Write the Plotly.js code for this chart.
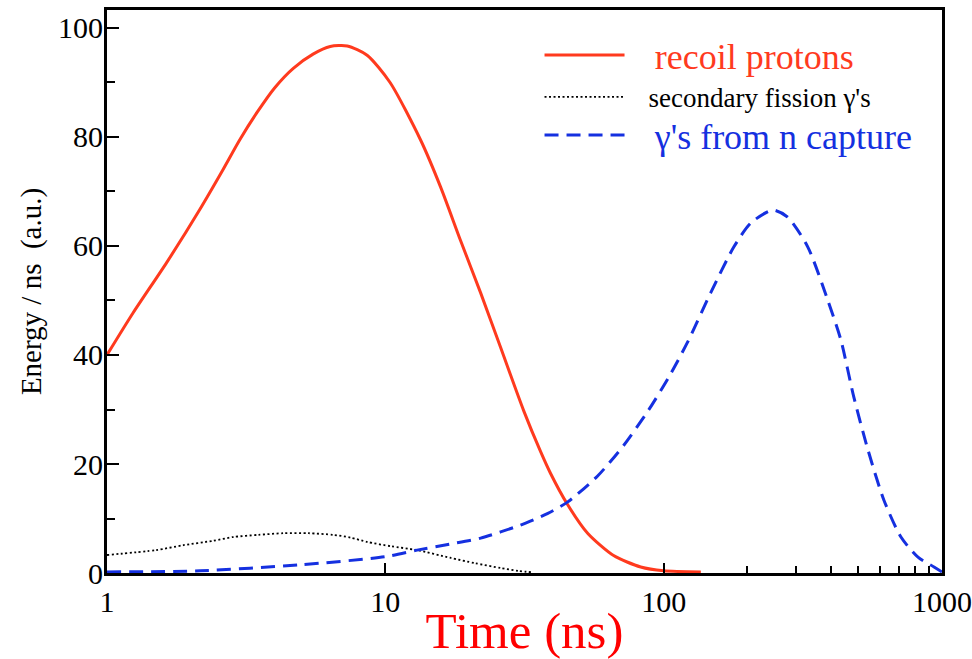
<!DOCTYPE html>
<html>
<head>
<meta charset="utf-8">
<script src="https://cdn.plot.ly/plotly-3.0.1.min.js"></script>
<style>html,body{margin:0;padding:0;background:#fff;}#chart{width:972px;height:659px;}</style>
</head>
<body>
<div id="chart"></div>
<script>
// Recoil protons (solid red)
const timeRecoil = [1, 1.24, 1.64, 2.16, 2.61, 3.0, 3.46, 4.0, 4.67, 5.5, 6.34, 7.3, 8.6, 10.4, 13.4, 15.8, 18.6, 22, 25.9, 31.4, 36.1, 39.2, 45.1, 53.3, 66.1, 82.7, 100, 136];
const recoil     = [40, 47.7, 57, 66.8, 74, 79.5, 84.5, 89, 92.6, 95.2, 96.6, 96.7, 95, 90, 79.4, 70.8, 61.1, 51.4, 41.5, 29.8, 22.3, 18.3, 12.6, 7.3, 3.2, 1.1, 0.4, 0.2];

// Secondary fission gammas (dotted black)
const timeFission = [1, 1.5, 1.88, 2.4, 2.84, 3.5, 4.3, 5.3, 6.5, 7.5, 8.6, 10.5, 13, 17.1, 21, 26, 30, 34];
const fission     = [3.3, 4.2, 5.1, 5.9, 6.6, 7.0, 7.3, 7.3, 7.0, 6.5, 5.7, 4.9, 4.2, 2.8, 1.8, 0.9, 0.4, 0.1];

// Gammas from n capture (dashed blue)
const timeCapture = [1, 2.16, 4.95, 10, 13, 17, 22, 30.6, 38.2, 45.1, 57.9, 71.8, 87.5, 104, 122, 147.5, 178.6, 205.5, 246.6, 279, 329.6, 389, 433, 482, 542, 618, 712, 820, 936, 1000];
const capture     = [0.2, 0.4, 1.5, 3, 4.2, 5.3, 6.4, 8.8, 10.9, 13.0, 17.8, 23.4, 29.6, 35.8, 42.4, 51.4, 59.8, 64.2, 66.6, 65.3, 59.8, 50, 42.8, 32.3, 22.6, 13.4, 6.6, 2.9, 1.1, 0.2];

const seriesNames = ["recoil protons", "secondary fission \u03b3's", "\u03b3's from n capture"];

const xTickVals = [1, 10, 100, 1000];
const xMinorVals = [200, 300, 400, 500, 600, 700, 800, 900];
const yTickVals = [0, 20, 40, 60, 80, 100];
const yMinorVals = [10, 30, 50, 70, 90];

const RED = '#ff3a1e';
const BLUE = '#1530e0';
const FONT = 'Liberation Serif';

const pad = '\u00A0\u00A0\u2009';

const traces = [
  {x: timeRecoil, y: recoil, name: pad + seriesNames[0], mode: 'lines', legend: 'legend',
   line: {color: RED, width: 3, shape: 'spline', smoothing: 0.7}},
  {x: timeFission, y: fission, name: pad + seriesNames[1], mode: 'lines', legend: 'legend2',
   line: {color: '#000', width: 1.8, dash: '2px,2.5px', shape: 'spline', smoothing: 0.7}},
  {x: timeCapture, y: capture, name: pad + seriesNames[2], mode: 'lines', legend: 'legend3',
   line: {color: BLUE, width: 3, dash: '14px,8px', shape: 'spline', smoothing: 0.7}}
];

const legendBase = {xref: 'paper', yref: 'paper', xanchor: 'left', yanchor: 'middle',
  bgcolor: 'rgba(0,0,0,0)', borderwidth: 0, itemwidth: 80, itemclick: false, itemdoubleclick: false};

const layout = {
  width: 972, height: 659,
  margin: {l: 107, r: 30, t: 10, b: 86},
  paper_bgcolor: '#fff', plot_bgcolor: '#fff',
  showlegend: true,
  legend: Object.assign({}, legendBase, {x: 0.518, y: 0.92, font: {family: FONT, size: 36, color: RED}}),
  legend2: Object.assign({}, legendBase, {x: 0.518, y: 0.845, font: {family: FONT, size: 27, color: '#000'}}),
  legend3: Object.assign({}, legendBase, {x: 0.518, y: 0.778, font: {family: FONT, size: 36, color: BLUE}}),
  xaxis: {
    type: 'log', range: [0, 3],
    tickmode: 'array', tickvals: xTickVals, ticktext: xTickVals.map(String),
    ticks: 'inside', ticklen: 10, tickwidth: 2, tickcolor: '#000',
    minor: {tickmode: 'array', tickvals: xMinorVals, ticks: 'inside', ticklen: 7, tickwidth: 2, tickcolor: '#000', showgrid: false},
    showline: true, linewidth: 3, linecolor: '#000', mirror: true,
    showgrid: false, zeroline: false,
    tickfont: {family: FONT, size: 30, color: '#000'},
    title: {text: 'Time (ns)', font: {family: FONT, size: 51, color: '#ff0000'}, standoff: 2}
  },
  yaxis: {
    range: [0, 103.3],
    tickmode: 'array', tickvals: yTickVals,
    ticks: 'inside', ticklen: 12, tickwidth: 2, tickcolor: '#000',
    minor: {tickmode: 'array', tickvals: yMinorVals, ticks: 'inside', ticklen: 8, tickwidth: 2, tickcolor: '#000', showgrid: false},
    showline: true, linewidth: 3, linecolor: '#000', mirror: true,
    showgrid: false, zeroline: false,
    ticklabelstandoff: -5,
    tickfont: {family: FONT, size: 30, color: '#000'},
    title: {text: 'Energy / ns\u00A0\u00A0(a.u.)', font: {family: FONT, size: 29, color: '#000'}, standoff: 8}
  }
};

Plotly.newPlot('chart', traces, layout, {staticPlot: true, displayModeBar: false});
</script>
</body>
</html>
